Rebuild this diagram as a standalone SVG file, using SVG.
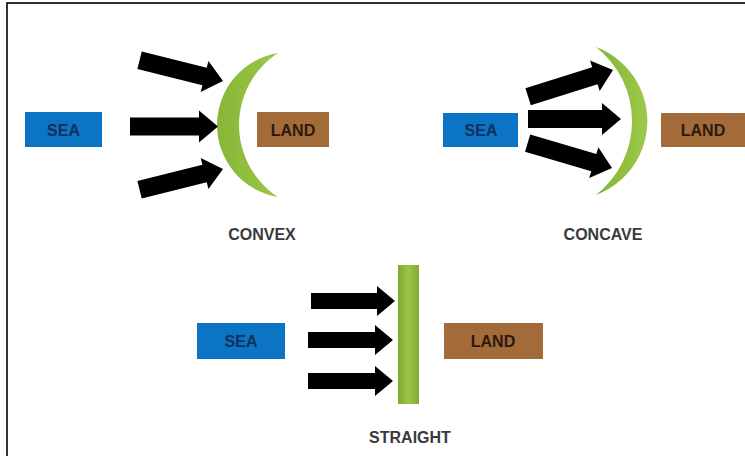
<svg xmlns="http://www.w3.org/2000/svg" width="745" height="456" viewBox="0 0 745 456">
  <style>
    .sea{fill:#0B74C4}
    .land{fill:#A36B3A}
    .boxtxt{font-family:"Liberation Sans",Arial,sans-serif;font-weight:bold;font-size:16px;text-anchor:middle}
    .seatxt{fill:#14305A}
    .landtxt{fill:#2A1A0C}
    .cap{font-family:"Liberation Sans",Arial,sans-serif;font-weight:bold;font-size:16px;fill:#3A3A3A;text-anchor:middle}
    .arrow{fill:#000}
  </style>
  <defs>
    <linearGradient id="gCrest" x1="0" y1="0" x2="1" y2="0">
      <stop offset="0" stop-color="#86B636"/>
      <stop offset="1" stop-color="#9DC748"/>
    </linearGradient>
    <linearGradient id="gBar" x1="0" y1="0" x2="1" y2="0">
      <stop offset="0" stop-color="#7FA932"/>
      <stop offset="0.5" stop-color="#9CC446"/>
      <stop offset="1" stop-color="#80AA33"/>
    </linearGradient>
  </defs>
  <rect x="0" y="0" width="745" height="456" fill="#fff"/>
  <rect id="frame" x="7" y="3" width="800" height="500" fill="none" stroke="#000" stroke-width="1.6"/>

  <!-- CONVEX -->
  <g id="convex-sea"><rect class="sea" x="25" y="112" width="77" height="35"/><text class="boxtxt seatxt" x="63.5" y="135.5">SEA</text></g>
  <g id="convex-land"><rect class="land" x="257" y="112" width="72" height="35"/><text class="boxtxt landtxt" x="293" y="135.5">LAND</text></g>
  <g id="convex-coast"><path d="M278 53 A73 73 0 0 0 278 197 A86 86 0 0 1 278 53 Z" fill="url(#gCrest)"/></g>
  <g id="convex-label"><text class="cap" x="262" y="240">CONVEX</text></g>

  <!-- CONCAVE -->
  <g id="concave-sea"><rect class="sea" x="443" y="113" width="75" height="34"/><text class="boxtxt seatxt" x="481" y="136">SEA</text></g>
  <g id="concave-land"><rect class="land" x="661" y="113" width="84" height="34"/><text class="boxtxt landtxt" x="703" y="136">LAND</text></g>
  <g id="concave-coast"><path d="M596 47 A79 79 0 0 1 596 195 A94 94 0 0 0 596 47 Z" fill="url(#gCrest)"/></g>
  <g id="concave-label"><text class="cap" x="603" y="240">CONCAVE</text></g>

  <!-- STRAIGHT -->
  <g id="straight-sea"><rect class="sea" x="197" y="323" width="88" height="36"/><text class="boxtxt seatxt" x="241" y="347">SEA</text></g>
  <g id="straight-land"><rect class="land" x="444" y="323" width="99" height="36"/><text class="boxtxt landtxt" x="493" y="347">LAND</text></g>
  <g id="straight-coast"><rect x="398" y="265" width="21" height="139" fill="url(#gBar)"/></g>
  <g id="straight-label"><text class="cap" x="410" y="443">STRAIGHT</text></g>

  <g id="connectors">
    <path class="arrow" transform="translate(223,81) rotate(14)" d="M0,0 L-19,-16 L-19,-9 L-86,-9 L-86,9 L-19,9 L-19,16 Z"/>
    <path class="arrow" transform="translate(218,126.5)" d="M0,0 L-19,-16 L-19,-9 L-88,-9 L-88,9 L-19,9 L-19,16 Z"/>
    <path class="arrow" transform="translate(223,169) rotate(-14)" d="M0,0 L-19,-16 L-19,-9 L-86,-9 L-86,9 L-19,9 L-19,16 Z"/>

    <path class="arrow" transform="translate(613,70) rotate(-17.5)" d="M0,0 L-19,-16 L-19,-9 L-89,-9 L-89,9 L-19,9 L-19,16 Z"/>
    <path class="arrow" transform="translate(621,119)" d="M0,0 L-19,-16 L-19,-9 L-93,-9 L-93,9 L-19,9 L-19,16 Z"/>
    <path class="arrow" transform="translate(612,168) rotate(16.5)" d="M0,0 L-19,-16 L-19,-9 L-88,-9 L-88,9 L-19,9 L-19,16 Z"/>

    <path class="arrow" transform="translate(395,301)" d="M0,0 L-18,-15 L-18,-8 L-84,-8 L-84,8 L-18,8 L-18,15 Z"/>
    <path class="arrow" transform="translate(393,340)" d="M0,0 L-18,-15 L-18,-8 L-85,-8 L-85,8 L-18,8 L-18,15 Z"/>
    <path class="arrow" transform="translate(393,381)" d="M0,0 L-18,-15 L-18,-8 L-85,-8 L-85,8 L-18,8 L-18,15 Z"/>
  </g>
</svg>
